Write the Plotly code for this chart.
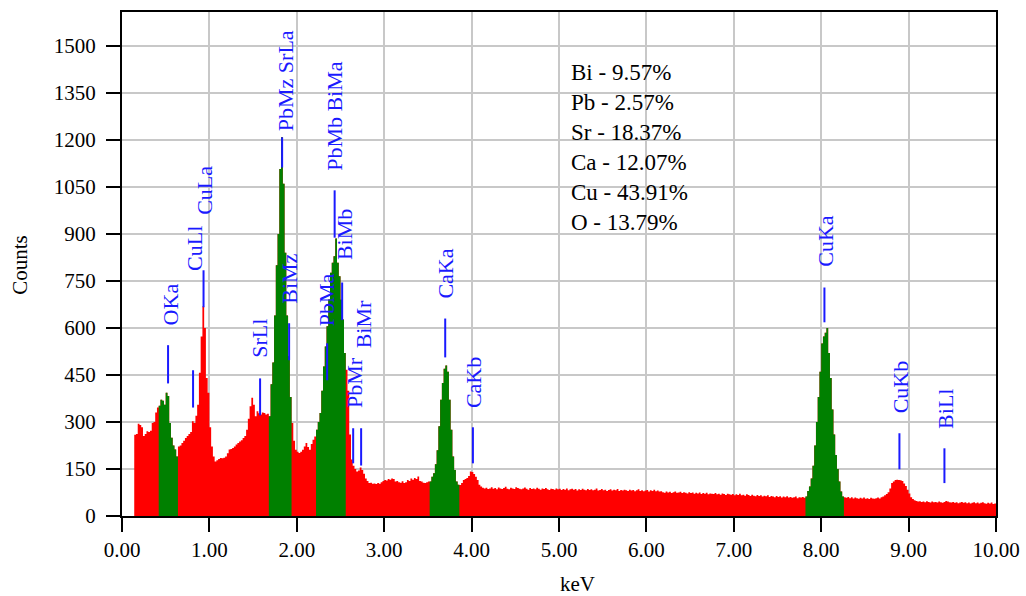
import numpy as np
import plotly.graph_objects as go

# ---------------- data ----------------
channel_start_kev = 0.14
channel_width_kev = 0.02

counts = [
    # 0.14 - 0.40
    259, 262, 294, 290, 283, 255, 262, 270, 268, 272, 297, 300, 330, 346,
    # 0.42 - 0.62 (O Ka)
    352, 371, 368, 355, 393, 383, 297, 250, 225, 212, 190,
    # 0.64 - 1.66
    222, 225, 233, 240, 249, 255, 262, 268, 302, 297,
    320, 355, 457, 573, 669, 600, 440, 393, 283, 222,
    190, 174, 178, 182, 185, 184, 186, 190, 200, 212,
    214, 217, 222, 228, 233, 238, 242, 249, 255, 275,
    310, 350, 377, 355, 318, 334, 328, 324, 330, 329,
    324, 326,
    # 1.68 - 1.92 (Sr La)
    318, 420, 490, 640, 800, 900, 1107, 1208, 1060, 840, 640, 510, 380,
    # 1.94 - 2.20
    297, 240, 211, 205, 201, 205, 211, 222, 233, 220, 211, 230, 243, 254,
    # 2.22 - 2.54 (Bi Ma)
    275, 300, 329, 400, 477, 541, 605, 691, 776, 808, 829, 885, 808, 765, 690, 627, 520,
    # 2.56 - 3.50
    467, 400, 260, 180, 160, 150, 142, 145, 155, 147,
    135, 120, 112, 105, 106, 103, 104, 102, 105, 103,
    108, 112, 115, 113, 118, 116, 120, 118, 110, 112,
    108, 106, 111, 105, 108, 115, 112, 120, 116, 121,
    118, 126, 112, 110, 106, 105, 108, 110,
    # 3.52 - 3.84 (Ca Ka)
    110, 125, 136, 165, 210, 286, 371, 424, 470, 480, 460, 371, 275, 190, 147, 110, 100,
    # 3.86 - 7.80
    99, 105, 115, 118, 121, 128, 142, 140, 134, 125, 115, 100, 94, 90, 88,
    90, 86, 88, 92, 87, 89, 85, 91, 88, 86,
    89, 93, 87, 85, 90, 88, 86, 92, 89, 87,
    85, 88, 91, 87, 84, 89, 86, 88, 85, 90,
    87, 84, 88, 86, 89, 85, 83, 87, 86, 84,
    88, 85, 87, 83, 86, 84, 88, 82, 85, 87,
    84, 86, 81, 85, 83, 87, 84, 82, 86, 83,
    85, 82, 84, 88, 81, 83, 86, 82, 84, 80,
    83, 85, 81, 84, 82, 86, 80, 83, 81, 84,
    82, 80, 84, 81, 83, 79, 82, 85, 80, 82,
    79, 81, 83, 78, 82, 80, 84, 79, 81, 78,
    79, 76, 74, 78, 75, 77, 73, 76, 78, 74,
    75, 77, 73, 76, 74, 72, 76, 73, 75, 71,
    74, 72, 75, 70, 73, 71, 74, 69, 72, 71,
    70, 73, 69, 71, 68, 72, 70, 67, 71, 69,
    68, 70, 66, 69, 67, 71, 66, 68, 65, 69,
    67, 64, 68, 65, 63, 67, 64, 66, 62, 65,
    63, 66, 61, 64, 62, 60, 64, 61, 63, 59,
    62, 60, 63, 59, 61, 58, 60, 62, 57, 60,
    59, 61, 58,
    # 7.82 - 8.24 (Cu Ka)
    62, 80, 94, 120, 160, 225, 300, 380, 460, 550, 573, 585, 600, 520, 440, 340, 260, 195, 150, 110, 78, 62,
    # 8.26 - 9.98
    60, 58, 61, 57, 60, 56, 59, 57, 55, 58,
    56, 59, 55, 57, 54, 58, 56, 55, 57, 59,
    56, 60, 62, 66, 70, 76, 88, 105, 110, 115,
    116, 115, 114, 112, 104, 96, 84, 72, 60, 54,
    50, 48, 46, 47, 45, 46, 44, 47, 45, 43,
    46, 44, 45, 43, 46, 44, 42, 45, 48, 46,
    44, 43, 45, 42, 44, 41, 43, 45, 42, 44,
    41, 43, 40, 42, 44, 41, 43, 40, 42, 44,
    41, 39, 42, 40, 43, 38, 40,
]

# regions of interest (keV) shown in green
roi_low = [0.42, 1.68, 2.22, 3.52, 7.82]
roi_high = [0.64, 1.94, 2.56, 3.86, 8.26]

# peak identification labels
peak_names = ["OKa", "CuLl", "CuLa", "SrLl", "PbMz SrLa", "BiMz", "PbMa", "PbMb BiMa",
              "BiMb", "PbMr", "BiMr", "CaKa", "CaKb", "CuKa", "CuKb", "BiLl"]
peak_kev = [0.527, 0.813, 0.933, 1.580, 1.832, 1.912, 2.347, 2.433,
            2.519, 2.645, 2.736, 3.698, 4.015, 8.037, 8.895, 9.410]
marker_low = [423, 346, 666, 321, 1112, 497, 433, 888, 625, 168, 161, 506, 168, 618, 149, 105]
marker_high = [545, 465, 784, 439, 1208, 615, 551, 1039, 745, 280, 280, 630, 283, 729, 264, 216]
label_kev = [0.550, 0.836, 0.950, 1.580, 1.866, 1.923, 2.341, 2.430,
             2.553, 2.667, 2.759, 3.698, 4.030, 8.048, 8.907, 9.422]
label_base = [602, 774, 953, 497, 1220, 671, 599, 1096, 809, 337, 529, 688, 337, 790, 321, 273]

composition = ["Bi - 9.57%", "Pb - 2.57%", "Sr - 18.37%", "Ca - 12.07%", "Cu - 43.91%", "O - 13.79%"]

x_ticks = [0, 1, 2, 3, 4, 5, 6, 7, 8, 9, 10]
y_ticks = [0, 150, 300, 450, 600, 750, 900, 1050, 1200, 1350, 1500]

# ---------------- figure ----------------
counts_arr = np.array(counts, dtype=float)
energy = np.round(channel_start_kev + channel_width_kev * np.arange(len(counts_arr)), 4)

RED = "#ff0000"
GREEN = "#008000"
BLUE = "#1a1aff"
SERIF = "Liberation Serif, Times New Roman, serif"

fig = go.Figure()

x_step = np.append(energy, energy[-1] + channel_width_kev)
y_step = np.append(counts_arr, counts_arr[-1])
fig.add_trace(go.Scatter(x=x_step, y=y_step, mode="lines",
                         line=dict(width=0, shape="hv", color=RED),
                         fill="tozeroy", fillcolor=RED, hoverinfo="skip",
                         showlegend=False))

for lo, hi in zip(roi_low, roi_high):
    m = (energy >= lo - 1e-6) & (energy < hi - 1e-6)
    xs = np.append(energy[m], hi)
    ys = np.append(counts_arr[m], counts_arr[m][-1])
    fig.add_trace(go.Scatter(x=xs, y=ys, mode="lines",
                             line=dict(width=0, shape="hv", color=GREEN),
                             fill="tozeroy", fillcolor=GREEN, hoverinfo="skip",
                             showlegend=False))

for e, y0, y1 in zip(peak_kev, marker_low, marker_high):
    fig.add_shape(type="line", xref="x", yref="y", x0=e, x1=e, y0=y0, y1=y1,
                  line=dict(color=BLUE, width=2))

for name, e, yb in zip(peak_names, label_kev, label_base):
    fig.add_annotation(x=e, y=yb, xref="x", yref="y", text=name, showarrow=False,
                       textangle=-90, xanchor="center", yanchor="bottom",
                       font=dict(family=SERIF, size=22, color=BLUE))

fig.add_annotation(x=5.11, y=1462, xref="x", yref="y",
                   text="<br>".join(composition), showarrow=False,
                   xanchor="left", yanchor="top", align="left",
                   font=dict(family=SERIF, size=23, color="#000000"))

fig.add_annotation(x=-0.117, y=0.498, xref="paper", yref="paper", text="Counts",
                   showarrow=False, textangle=-90, xanchor="center", yanchor="middle",
                   font=dict(family=SERIF, size=21, color="#000000"))
fig.add_annotation(x=0.5206, y=-0.135, xref="paper", yref="paper", text="keV",
                   showarrow=False, xanchor="center", yanchor="middle",
                   font=dict(family=SERIF, size=21, color="#000000"))

fig.update_layout(
    width=1026, height=596, autosize=False,
    margin=dict(l=122, r=30, t=12, b=80, pad=0, autoexpand=False),
    paper_bgcolor="white", plot_bgcolor="white",
    showlegend=False,
    font=dict(family=SERIF, size=21, color="#000000"),
)
fig.update_xaxes(range=[0, 10], tickvals=x_ticks, automargin=False,
                 ticktext=[f"{v:.2f}" for v in x_ticks],
                 showgrid=True, gridcolor="#c8c8c8", gridwidth=1.5,
                 showline=True, linecolor="#000000", linewidth=2, mirror=True,
                 ticks="outside", ticklen=14, tickwidth=1.5, tickcolor="#000000",
                 zeroline=False, tickfont=dict(family=SERIF, size=21, color="#000000"))
fig.update_yaxes(range=[0, 1608], tickvals=y_ticks, automargin=False,
                 showgrid=True, gridcolor="#c8c8c8", gridwidth=1.5,
                 showline=True, linecolor="#000000", linewidth=2, mirror=True,
                 ticks="outside", ticklen=14, tickwidth=1.5, tickcolor="#000000",
                 ticklabelstandoff=6,
                 zeroline=False, tickfont=dict(family=SERIF, size=21, color="#000000"))

fig.write_html("out.html",
               config={"displayModeBar": False},
               post_script="document.body.style.margin='0';document.body.style.overflow='hidden';")
